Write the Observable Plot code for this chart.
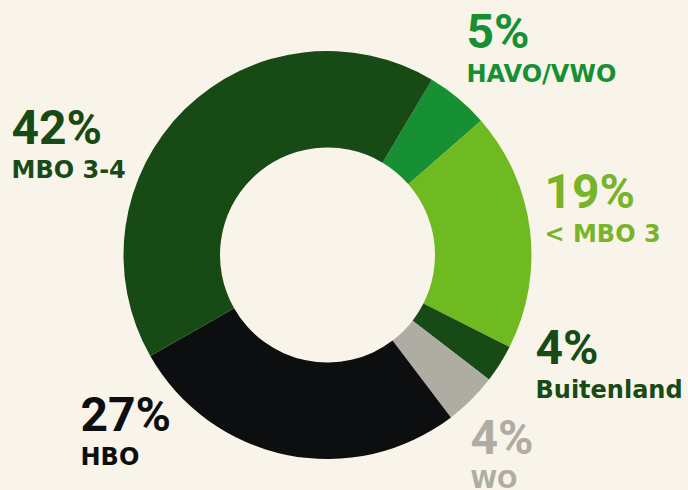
<!DOCTYPE html>
<html><head><meta charset="utf-8">
<script src="https://cdn.jsdelivr.net/npm/d3@7"></script>
<script src="https://cdn.jsdelivr.net/npm/@observablehq/plot@0.6"></script>
<style>
html,body{margin:0;padding:0;background:#f8f4e9;}
#chart svg{display:block}
</style></head><body><div id="chart"></div>
<script>
// ---- data ----
const categories = ["HAVO/VWO", "< MBO 3", "Buitenland", "WO", "HBO", "MBO 3-4"];
const shares = [5.0, 18.9, 3.0, 4.2, 27.1, 41.8];
const percentLabels = ["5%", "19%", "4%", "4%", "27%", "42%"];

// ---- styles ----
const sliceColors = ["#169033", "#6fba20", "#184a16", "#aeaca3", "#0d0e10", "#184a16"];
const labelColors = ["#169033", "#78b42a", "#184a16", "#aeaca3", "#0d0e10", "#184a16"];

// ---- layout (pixels) ----
const W = 688, H = 490;
const center = [327.5, 255];
const outerR = 204, innerR = 107.5;
const startDeg = 30.8;
const labelAnchors = [[466, 47], [544, 207], [535, 363], [470, 453], [80, 430], [11, 143]];
const nameGap = 34;

const rows = categories.map((c, i) => ({
  category: c, share: shares[i], pct: percentLabels[i],
  color: sliceColors[i], labelColor: labelColors[i],
  lx: labelAnchors[i][0], ly: labelAnchors[i][1], ny: labelAnchors[i][1] + nameGap
}));

const donut = (index, scales) => {
  const a0 = startDeg * Math.PI / 180;
  const pie = d3.pie().sort(null).value(d => d.share).startAngle(a0).endAngle(a0 + 2 * Math.PI);
  const arc = d3.arc().innerRadius(innerR).outerRadius(outerR);
  const g = d3.create("svg:g")
    .attr("transform", `translate(${scales.x(center[0])},${scales.y(center[1])})`);
  g.selectAll("path").data(pie(rows)).join("path")
    .attr("d", arc)
    .attr("fill", d => d.data.color);
  return g.node();
};

const chart = Plot.plot({
  width: W, height: H,
  margin: 0,
  style: {background: "#f8f4e9"},
  x: {domain: [0, W], range: [0, W], axis: null},
  y: {domain: [0, H], range: [0, H], axis: null},
  marks: [
    donut,
    Plot.text(rows, {x: "lx", y: "ly", text: "pct", fill: "labelColor",
      textAnchor: "start", lineAnchor: "bottom", fontSize: 48, fontWeight: 700,
      fontFamily: "Roboto, sans-serif"}),
    Plot.text(rows, {x: "lx", y: "ny", text: "category", fill: "labelColor",
      textAnchor: "start", lineAnchor: "bottom", fontSize: 24, fontWeight: 700,
      fontFamily: "'DejaVu Sans', sans-serif"})
  ]
});
document.getElementById("chart").append(chart);
</script></body></html>
